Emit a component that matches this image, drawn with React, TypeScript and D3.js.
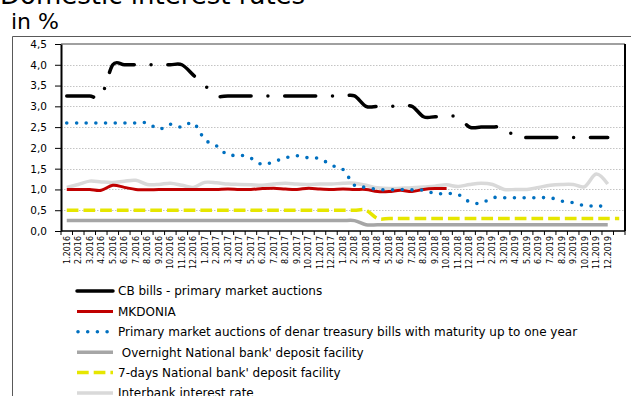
import React, { useEffect, useRef } from 'react';
import * as d3 from 'd3';

// month labels, the last slot is an empty category (only the 7-day rate reaches it)
const monthLabels = [
  '1.2016', '2.2016', '3.2016', '4.2016', '5.2016', '6.2016', '7.2016', '8.2016', '9.2016', '10.2016', '11.2016', '12.2016',
  '1.2017', '2.2017', '3.2017', '4.2017', '5.2017', '6.2017', '7.2017', '8.2017', '9.2017', '10.2017', '11.2017', '12.2017',
  '1.2018', '2.2018', '3.2018', '4.2018', '5.2018', '6.2018', '7.2018', '8.2018', '9.2018', '10.2018', '11.2018', '12.2018',
  '1.2019', '2.2019', '3.2019', '4.2019', '5.2019', '6.2019', '7.2019', '8.2019', '9.2019', '10.2019', '11.2019', '12.2019',
  '',
];

const yTicks = [0, 0.5, 1, 1.5, 2, 2.5, 3, 3.5, 4, 4.5];

const cbBills = [
  3.25, 3.25, 3.25, 3.25, 4.0, 4.0, 4.0, 4.0, 4.0, 4.0, 4.0, 3.75,
  3.5, 3.25, 3.25, 3.25, 3.25, 3.25, 3.25, 3.25, 3.25, 3.25, 3.25, 3.25,
  3.25, 3.25, 3.0, 3.0, 3.0, 3.0, 3.0, 2.75, 2.75, 2.75, 2.75, 2.5,
  2.5, 2.5, 2.5, 2.25, 2.25, 2.25, 2.25, 2.25, 2.25, 2.25, 2.25, 2.25,
];

const mkdonia = [
  1.0, 1.0, 1.0, 0.98, 1.1, 1.05, 1.0, 0.99, 1.0, 1.0, 1.0, 1.0,
  1.0, 1.0, 1.01, 1.0, 1.0, 1.02, 1.03, 1.01, 1.0, 1.03, 1.01, 1.0,
  1.01, 1.0, 1.0, 0.95, 0.95, 0.98, 0.95, 1.0, 1.02, 1.02,
];

const treasuryBills = [
  2.6, 2.6, 2.6, 2.6, 2.6, 2.6, 2.6, 2.6, 2.45, 2.57, 2.5, 2.6,
  2.2, 2.05, 1.83, 1.83, 1.75, 1.6, 1.67, 1.76, 1.81, 1.76, 1.74, 1.58,
  1.48, 1.1, 1.05, 1.0, 0.99, 1.0, 0.99, 0.98, 0.9, 0.9, 0.88, 0.7,
  0.67, 0.8, 0.8, 0.8, 0.8, 0.8, 0.8, 0.72, 0.68, 0.61, 0.6, 0.6,
];

const overnight = [
  0.25, 0.25, 0.25, 0.25, 0.25, 0.25, 0.25, 0.25, 0.25, 0.25, 0.25, 0.25,
  0.25, 0.25, 0.25, 0.25, 0.25, 0.25, 0.25, 0.25, 0.25, 0.25, 0.25, 0.25,
  0.25, 0.25, 0.15, 0.15, 0.15, 0.15, 0.15, 0.15, 0.15, 0.15, 0.15, 0.15,
  0.15, 0.15, 0.15, 0.15, 0.15, 0.15, 0.15, 0.15, 0.15, 0.15, 0.15, 0.15,
];

const sevenDays = [
  0.5, 0.5, 0.5, 0.5, 0.5, 0.5, 0.5, 0.5, 0.5, 0.5, 0.5, 0.5,
  0.5, 0.5, 0.5, 0.5, 0.5, 0.5, 0.5, 0.5, 0.5, 0.5, 0.5, 0.5,
  0.5, 0.5, 0.5, 0.3, 0.3, 0.3, 0.3, 0.3, 0.3, 0.3, 0.3, 0.3,
  0.3, 0.3, 0.3, 0.3, 0.3, 0.3, 0.3, 0.3, 0.3, 0.3, 0.3, 0.3,
  0.3,
];

const interbank = [
  1.05, 1.12, 1.2, 1.18, 1.17, 1.2, 1.22, 1.12, 1.12, 1.15, 1.1, 1.05,
  1.17, 1.16, 1.13, 1.12, 1.11, 1.1, 1.13, 1.15, 1.13, 1.12, 1.13, 1.13,
  1.15, 1.15, 1.1, 1.04, 1.02, 1.03, 1.04, 1.06, 1.08, 1.11, 1.07, 1.12,
  1.15, 1.12, 1.0, 1.0, 1.0, 1.05, 1.1, 1.12, 1.12, 1.07, 1.37, 1.13,
];

const seriesNames = [
  'CB bills - primary market auctions',
  'MKDONIA',
  'Primary market auctions of denar treasury bills with maturity up to one year',
  ' Overnight National bank\' deposit facility',
  '7-days National bank\' deposit facility',
  'Interbank interest rate',
];

interface LineStyle {
  color: string;
  width: number;
  dash: string | null;
  offset: number;
  cap: string;
}

const styles: LineStyle[] = [
  { color: '#000000', width: 3.5, dash: '31 16.8 0 16.8', offset: 4, cap: 'round' },
  { color: '#c00000', width: 3, dash: null, offset: 0, cap: 'butt' },
  { color: '#0070c0', width: 3.6, dash: '0 9.7', offset: 0, cap: 'round' },
  { color: '#a6a6a6', width: 3.5, dash: null, offset: 0, cap: 'butt' },
  { color: '#e6e600', width: 3.5, dash: '11.7 5', offset: 0, cap: 'butt' },
  { color: '#d9d9d9', width: 3.5, dash: null, offset: 0, cap: 'butt' },
];

const W = 631;
const H = 396;

const App: React.FC = () => {
  const svgRef = useRef<SVGSVGElement | null>(null);

  useEffect(() => {
    const svg = d3.select(svgRef.current);
    svg.selectAll('*').remove();

    const left = 61, right = 625, top = 44, bottom = 231;

    const x = d3.scaleBand<string>()
      .domain(monthLabels.map((_, i) => String(i)))
      .range([left, right])
      .padding(0);
    const y = d3.scaleLinear().domain([0, 4.5]).range([bottom, top]);
    const cx = (i: number) => (x(String(i)) || 0) + x.bandwidth() / 2;

    svg.append('rect').attr('width', W).attr('height', H).attr('fill', '#fff');

    // outer frame (only the top and left edges fall inside the picture)
    svg.append('path')
      .attr('d', `M12.5,${H + 5}V36.5H${W + 5}`)
      .attr('fill', 'none')
      .attr('stroke', '#595959')
      .attr('stroke-width', 1);

    // title
    svg.append('text').attr('x', 0).attr('y', 4).attr('font-size', 26).text('Domestic interest rates');
    svg.append('text').attr('x', 11).attr('y', 29).attr('font-size', 22).text('in %');

    // gridlines
    svg.append('g')
      .selectAll('line')
      .data(yTicks.filter(v => v > 0 && v < 4.5))
      .join('line')
      .attr('x1', left)
      .attr('x2', right)
      .attr('y1', d => Math.round(y(d)) + 0.5)
      .attr('y2', d => Math.round(y(d)) + 0.5)
      .attr('stroke', '#c4c4c4')
      .attr('stroke-dasharray', '1.5 1.5');

    svg.append('line')
      .attr('x1', left).attr('x2', right)
      .attr('y1', y(4.5)).attr('y2', y(4.5))
      .attr('stroke', '#a0a0a0')
      .attr('stroke-width', 2);

    // series, smoothed like the spreadsheet does
    const allSeries = [cbBills, mkdonia, treasuryBills, overnight, sevenDays, interbank];
    const drawOrder = [5, 3, 4, 1, 2, 0];
    const line = d3.line<number | null>()
      .defined(d => d != null)
      .x((_, i) => cx(i))
      .y(d => y(d as number))
      .curve(d3.curveCatmullRom.alpha(0));

    drawOrder.forEach(k => {
      const s = styles[k];
      svg.append('path')
        .datum(allSeries[k])
        .attr('d', line)
        .attr('fill', 'none')
        .attr('stroke', s.color)
        .attr('stroke-width', s.width)
        .attr('stroke-linecap', s.cap)
        .attr('stroke-linejoin', 'round')
        .attr('stroke-dasharray', s.dash)
        .attr('stroke-dashoffset', s.offset);
    });

    // x axis
    svg.append('line')
      .attr('x1', left).attr('x2', right)
      .attr('y1', bottom).attr('y2', bottom)
      .attr('stroke', '#000').attr('stroke-width', 1.5);

    svg.append('g')
      .selectAll('line')
      .data(d3.range(monthLabels.length + 1))
      .join('line')
      .attr('x1', i => left + i * x.bandwidth())
      .attr('x2', i => left + i * x.bandwidth())
      .attr('y1', bottom)
      .attr('y2', bottom + 4)
      .attr('stroke', '#000');

    svg.append('g')
      .selectAll('text')
      .data(monthLabels)
      .join('text')
      .attr('transform', (_, i) => `translate(${cx(i)},${bottom + 5}) rotate(-90)`)
      .attr('text-anchor', 'end')
      .attr('dy', '0.35em')
      .attr('font-size', 8)
      .text(d => d);

    // y axis
    const yAxis = svg.append('g')
      .attr('transform', `translate(${left},0)`)
      .call(
        d3.axisLeft(y)
          .tickValues(yTicks)
          .tickFormat(d => (d as number).toFixed(1).replace('.', ','))
          .tickSize(6)
          .tickSizeOuter(0)
          .tickPadding(8)
      );
    yAxis.select('.domain').attr('stroke', '#000').attr('stroke-width', 2);
    yAxis.selectAll('text').attr('font-size', 10.5).attr('font-family', 'DejaVu Sans').attr('fill', '#000');

    // right border of plot area
    svg.append('line')
      .attr('x1', right).attr('x2', right)
      .attr('y1', top).attr('y2', bottom)
      .attr('stroke', '#000').attr('stroke-width', 2);

    // legend
    const legend = svg.append('g');
    seriesNames.forEach((name, k) => {
      const s = styles[k];
      const ry = 291 + k * 20.4;
      legend.append('line')
        .attr('x1', k === 2 ? 78 : 77).attr('x2', 113)
        .attr('y1', ry).attr('y2', ry)
        .attr('stroke', s.color)
        .attr('stroke-width', s.width)
        .attr('stroke-linecap', s.cap)
        .attr('stroke-dasharray', k === 0 ? null : s.dash);
      legend.append('text')
        .attr('x', 118)
        .attr('y', ry + 4.3)
        .attr('font-size', 12)
        .style('white-space', 'pre')
        .text(name);
    });
  }, []);

  return (
    <svg
      ref={svgRef}
      width={W}
      height={H}
      style={{ position: 'absolute', left: 0, top: 0, fontFamily: 'DejaVu Sans' }}
    />
  );
};

export default App;
